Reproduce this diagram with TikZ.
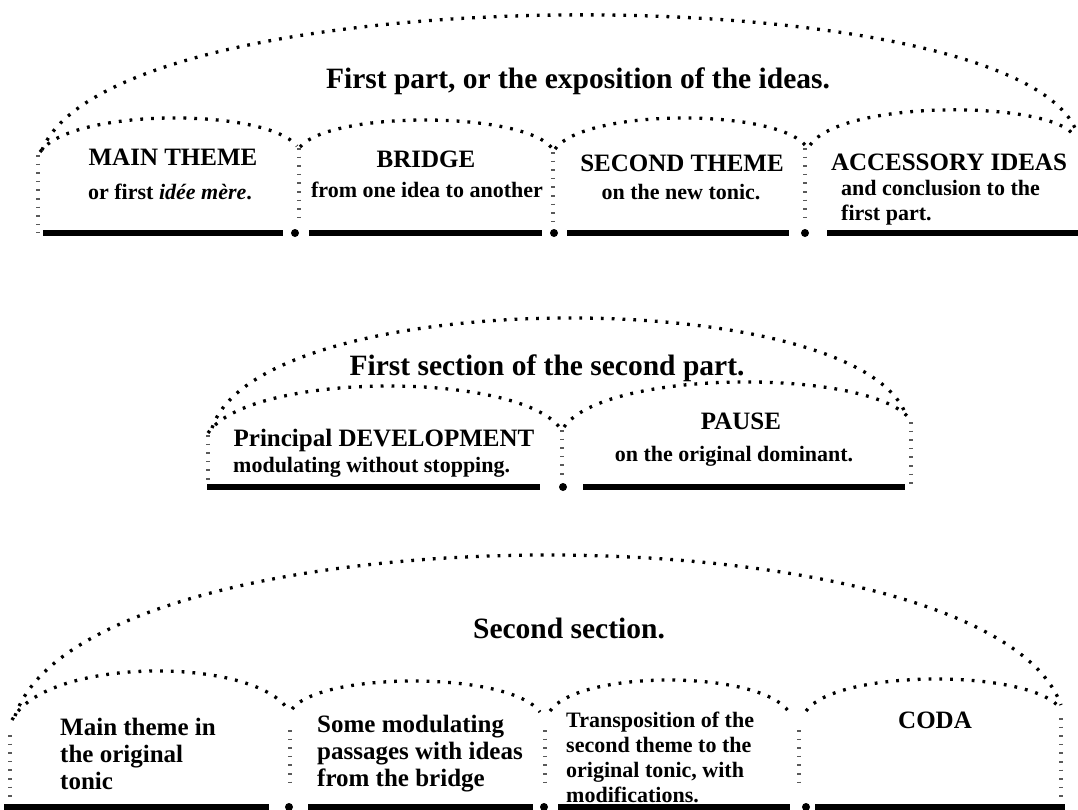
\documentclass[tikz,border=0pt]{standalone}
\usepackage{fontspec}
\setmainfont{Liberation Serif}
\begin{document}
\begin{tikzpicture}[x=1pt,y=-1pt,
  arcdots/.style={draw=black,line width=3.3pt,dash pattern=on 2.8pt off 8pt},
  tickline/.style={draw=black!65,line width=4.5pt,dash pattern=on 1.6pt off 7pt},
  bar/.style={draw=black,line width=6pt},
  joint/.style={fill=black},
  titletext/.style={inner sep=0pt,anchor=base,font=\fontsize{29.5}{30}\selectfont\bfseries},
  headtext/.style={inner sep=0pt,anchor=base,font=\fontsize{25}{27}\selectfont\bfseries},
  subtext/.style={inner sep=0pt,anchor=base,font=\fontsize{22}{25}\selectfont\bfseries},
  blocktext/.style={inner sep=0pt,anchor=base west,align=left,font=\fontsize{25}{27}\selectfont\bfseries},
  smallblock/.style={inner sep=0pt,anchor=base west,align=left,font=\fontsize{22}{25}\selectfont\bfseries}]

% canvas
\fill[white] (0,0) rectangle (1078,809);
\useasboundingbox (0,0) rectangle (1078,809);

% dotted hump from (x1,y1) to (x2,y2) with top at y=#5, control spread #6
\newcommand\dothump[6]{%
  \pgfmathsetmacro\humpcy{(#5-(#2+#4)/8)/0.75}%
  \pgfmathsetmacro\humpxa{#1+#6*(#3-#1)}%
  \pgfmathsetmacro\humpxb{#3-#6*(#3-#1)}%
  \draw[arcdots] (#1,#2) .. controls (\humpxa,\humpcy) and (\humpxb,\humpcy) .. (#3,#4);}

% ---------- first part ----------
\dothump{42}{150}{1075}{128}{15}{0.07}
\dothump{40}{152}{297}{146}{118}{0.12}
\dothump{300}{147}{552}{148}{120}{0.12}
\dothump{555}{149}{806}{146}{118}{0.12}
\dothump{810}{145}{1072}{133}{110}{0.12}

\draw[tickline] (38,155) -- (38,233);
\draw[tickline] (299,148) -- (299,225);
\draw[tickline] (553,152) -- (553,222);
\draw[tickline] (805,148) -- (805,222);

\draw[bar] (43,233) -- (283,233);
\draw[bar] (309,233) -- (542,233);
\draw[bar] (567,233) -- (789,233);
\draw[bar] (827,233) -- (1078,233);
\fill[joint] (295,233) circle (4);
\fill[joint] (554,233) circle (4);
\fill[joint] (805,233) circle (4);

\node[titletext] (t1) at (578,88) {First part, or the exposition of the ideas.};
\node[headtext] (mainth) at (173,165) {MAIN THEME};
\node[subtext] (mainsub) at (170,199) {or first \textit{idée mère}.};
\node[headtext] (bridge) at (426,167) {BRIDGE};
\node[subtext] (bridgesub) at (427,197) {from one idea to another};
\node[headtext] (second) at (682,171) {SECOND THEME};
\node[subtext] (secondsub) at (681,199) {on the new tonic.};
\node[headtext] (access) at (949,170) {ACCESSORY IDEAS};
% multi-line blocks are placed by the baseline of their last line
\node[smallblock] (accsub) at (841,220) {and conclusion to the\\first part.};

% ---------- first section of the second part ----------
\dothump{212}{428}{906}{415}{318}{0.07}
\dothump{208}{433}{560}{428}{386}{0.12}
\dothump{564}{427}{909}{418}{382}{0.12}

\draw[tickline] (208,435) -- (208,480);
\draw[tickline] (562,430) -- (562,478);
\draw[tickline] (911,422) -- (911,485);

\draw[bar] (207,487) -- (540,487);
\draw[bar] (583,487) -- (905,487);
\fill[joint] (563,487) circle (4);

\node[titletext] (t2) at (547,375) {First section of the second part.};
\node[headtext] (devel) at (384,446) {Principal DEVELOPMENT};
\node[subtext,anchor=base west] (develsub) at (233,472) {modulating without stopping.};
\node[headtext] (pause) at (741,429) {PAUSE};
\node[subtext] (pausesub) at (734,461) {on the original dominant.};

% ---------- second section ----------
\dothump{15}{716}{1061}{705}{555}{0.07}
\dothump{12}{720}{289}{711}{671}{0.12}
\dothump{292}{709}{540}{712}{681}{0.12}
\dothump{550}{711}{789}{712}{680}{0.12}
\dothump{806}{711}{1060}{708}{679}{0.12}

\draw[tickline] (10,735) -- (10,797);
\draw[tickline] (290,730) -- (290,787);
\draw[tickline] (545,730) -- (545,790);
\draw[tickline] (799,730) -- (799,790);
\draw[tickline] (1061,718) -- (1061,800);

\draw[bar] (4,807) -- (269,807);
\draw[bar] (308,807) -- (533,807);
\draw[bar] (558,807) -- (790,807);
\draw[bar] (815,807) -- (1065,807);
\fill[joint] (289,807) circle (4);
\fill[joint] (544,807) circle (4);
\fill[joint] (806,807) circle (4);

\node[titletext] (t3) at (569,638) {Second section.};
\node[blocktext] (b1) at (60,789) {Main theme in\\the original\\tonic};
\node[blocktext] (b2) at (317,786) {Some modulating\\passages with ideas\\from the bridge};
\node[smallblock] (b3) at (566,802) {Transposition of the\\second theme to the\\original tonic, with\\modifications.};
\node[headtext] (coda) at (935,728) {CODA};

\end{tikzpicture}
\end{document}
